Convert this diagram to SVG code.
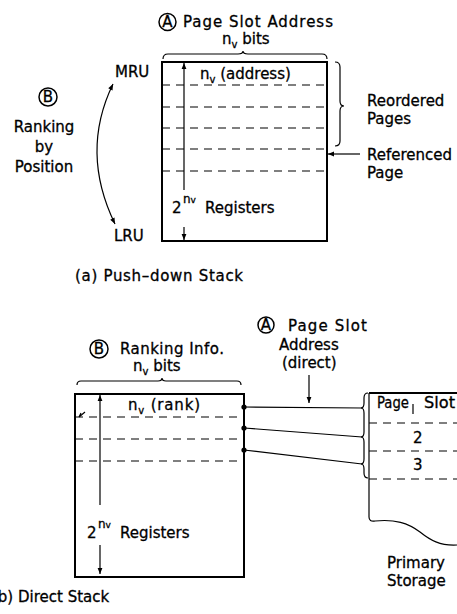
<svg xmlns="http://www.w3.org/2000/svg" width="457" height="614" viewBox="0 0 457 614">
<defs>
<style>
text{font-family:"DejaVu Sans","Liberation Sans",sans-serif;font-size:15px;fill:#000;stroke:#000;stroke-width:0.3}
.sm{font-size:12px}
.sub{font-size:10px}
.box{fill:none;stroke:#000;stroke-width:2}
.dash{fill:none;stroke:#000;stroke-width:1.2;stroke-dasharray:8 6}
.ln{fill:none;stroke:#000;stroke-width:1.2}
.circ{fill:none;stroke:#000;stroke-width:1.5}
.mid{text-anchor:middle}
</style>
<marker id="ah" viewBox="0 0 10 10" refX="10" refY="5" markerWidth="8" markerHeight="6" markerUnits="userSpaceOnUse" orient="auto-start-reverse">
<path d="M0,1 L10,5 L0,9 z" fill="#000"/>
</marker>
</defs>
<rect width="457" height="614" fill="#fff"/>

<!-- (a) Push-down stack -->
<g id="label-a-top">
<circle class="circ" cx="167.5" cy="22" r="8.5"/>
<text class="mid" x="167.5" y="26.5" font-size="12">A</text>
<text x="183" y="27" textLength="150" lengthAdjust="spacing">Page Slot Address</text>
<text x="222" y="44">n<tspan class="sub" dy="4">v</tspan><tspan dy="-4"> bits</tspan></text>
<path class="ln" d="M163 59 Q163 54 168 54 L238 54 Q243 54 243 51 Q243 54 248 54 L322 54 Q327 54 327 59"/>
</g>

<g id="stack-a">
<rect class="box" x="162" y="62" width="165" height="179"/>
<line class="dash" x1="162" y1="85" x2="327" y2="85"/>
<line class="dash" x1="162" y1="107" x2="327" y2="107"/>
<line class="dash" x1="162" y1="128" x2="327" y2="128"/>
<line class="dash" x1="162" y1="149" x2="327" y2="149"/>
<line class="dash" x1="162" y1="171" x2="327" y2="171"/>
<text x="200" y="79">n<tspan class="sub" dy="4">v</tspan><tspan dy="-4"> (address)</tspan></text>
<text x="172" y="213">2</text>
<text class="sm" x="183" y="203">n<tspan font-size="9">v</tspan></text>
<text x="205" y="213">Registers</text>
</g>

<g id="ranking-a">
<circle class="circ" cx="48" cy="97" r="9"/>
<text class="mid" x="48" y="101.5" font-size="12">B</text>
<text class="mid" x="44" y="132">Ranking</text>
<text class="mid" x="44" y="152">by</text>
<text class="mid" x="44" y="172">Position</text>
<text x="115" y="77">MRU</text>
<text x="114" y="241">LRU</text>
</g>

<g id="reordered">
<path class="ln" d="M335 62 Q340 62 340 67 L340 101 Q340 106 344 106 Q340 106 340 111 L340 141 Q340 146 335 146"/>
<text x="367" y="106">Reordered</text>
<text x="367" y="124">Pages</text>
<text x="367" y="160">Referenced</text>
<text x="367" y="178">Page</text>
</g>

<text x="75" y="281" textLength="168" lengthAdjust="spacing">(a) Push–down Stack</text>

<!-- (b) Direct stack -->
<g id="label-b-top">
<circle class="circ" cx="99" cy="349" r="9"/>
<text class="mid" x="99" y="353.5" font-size="12">B</text>
<text x="120" y="354" textLength="104" lengthAdjust="spacing">Ranking Info.</text>
<text x="133" y="371">n<tspan class="sub" dy="4">v</tspan><tspan dy="-4"> bits</tspan></text>
<path class="ln" d="M77 385 Q77 381 81 381 L158 381 Q162 381 162 378 Q162 381 166 381 L237 381 Q241 381 241 385"/>
</g>

<g id="stack-b">
<rect class="box" x="75" y="394" width="169" height="183"/>
<line class="dash" x1="75" y1="417" x2="244" y2="417"/>
<line class="dash" x1="75" y1="439" x2="244" y2="439"/>
<line class="dash" x1="75" y1="461" x2="244" y2="461"/>
<text x="128" y="410" textLength="72" lengthAdjust="spacing">n<tspan class="sub" dy="4">v</tspan><tspan dy="-4"> (rank)</tspan></text>
<text x="87" y="538">2</text>
<text class="sm" x="98" y="528">n<tspan font-size="9">v</tspan></text>
<text x="120" y="538">Registers</text>
<path class="ln" d="M85 412 L79 417 M79 417 L81 413"/>
<circle cx="244" cy="407" r="2.6" fill="#000"/>
<circle cx="244" cy="428" r="2.6" fill="#000"/>
<circle cx="244" cy="450" r="2.6" fill="#000"/>
</g>

<g id="label-a-bottom">
<circle class="circ" cx="266" cy="325" r="8"/>
<text class="mid" x="266" y="329.5" font-size="12">A</text>
<text x="288" y="331" textLength="79" lengthAdjust="spacing">Page Slot</text>
<text x="279" y="350">Address</text>
<text x="282" y="368">(direct)</text>
</g>

<g id="storage">
<path class="ln" d="M368 393 Q364 393 364 398 L364 403 Q364 408 361 408 Q364 408 364 413 L364 432 Q364 437 361 437 Q364 437 364 442 L364 459 Q364 464 361 464 Q364 464 364 469 L364 473 Q364 478 368 478"/>
<line x1="369" y1="393" x2="457" y2="393" stroke="#000" stroke-width="2.2"/>
<path class="ln" stroke-width="1.6" d="M369 393 L369 517 Q369 522 375 521 C395 519 408 523 420 532 C430 540 440 546 457 545"/>
<line class="dash" x1="369" y1="423" x2="457" y2="423"/>
<line class="dash" x1="369" y1="451" x2="457" y2="451"/>
<line class="dash" x1="369" y1="479" x2="457" y2="479"/>
<text x="377" y="408" font-size="14" textLength="32" lengthAdjust="spacingAndGlyphs">Page</text>
<line x1="413" y1="404" x2="413" y2="414" stroke="#000" stroke-width="1.2"/>
<text x="424" y="408" font-size="14" textLength="31" lengthAdjust="spacingAndGlyphs">Slot</text>
<text x="413" y="443">2</text>
<text x="413" y="470">3</text>
<text x="387" y="568">Primary</text>
<text x="387" y="586">Storage</text>
</g>

<text x="-8" y="602">(b) Direct Stack</text>

<g id="connectors">
<path class="ln" d="M115 224 Q80 152 113 84" marker-start="url(#ah)" marker-end="url(#ah)"/>
<line class="ln" x1="184" y1="190" x2="184" y2="63" marker-end="url(#ah)"/>
<line class="ln" x1="184" y1="227" x2="184" y2="240" marker-end="url(#ah)"/>
<line class="ln" x1="360" y1="154" x2="328" y2="154" marker-end="url(#ah)"/>
<line class="ln" x1="100" y1="505" x2="100" y2="395" marker-end="url(#ah)"/>
<line class="ln" x1="100" y1="545" x2="100" y2="574" marker-end="url(#ah)"/>
<line class="ln" x1="309" y1="375" x2="309" y2="403" marker-end="url(#ah)"/>
<line class="ln" x1="244" y1="407" x2="362" y2="408"/>
<line class="ln" x1="244" y1="428" x2="362" y2="437"/>
<line class="ln" x1="244" y1="450" x2="362" y2="464"/>
</g>
</svg>
